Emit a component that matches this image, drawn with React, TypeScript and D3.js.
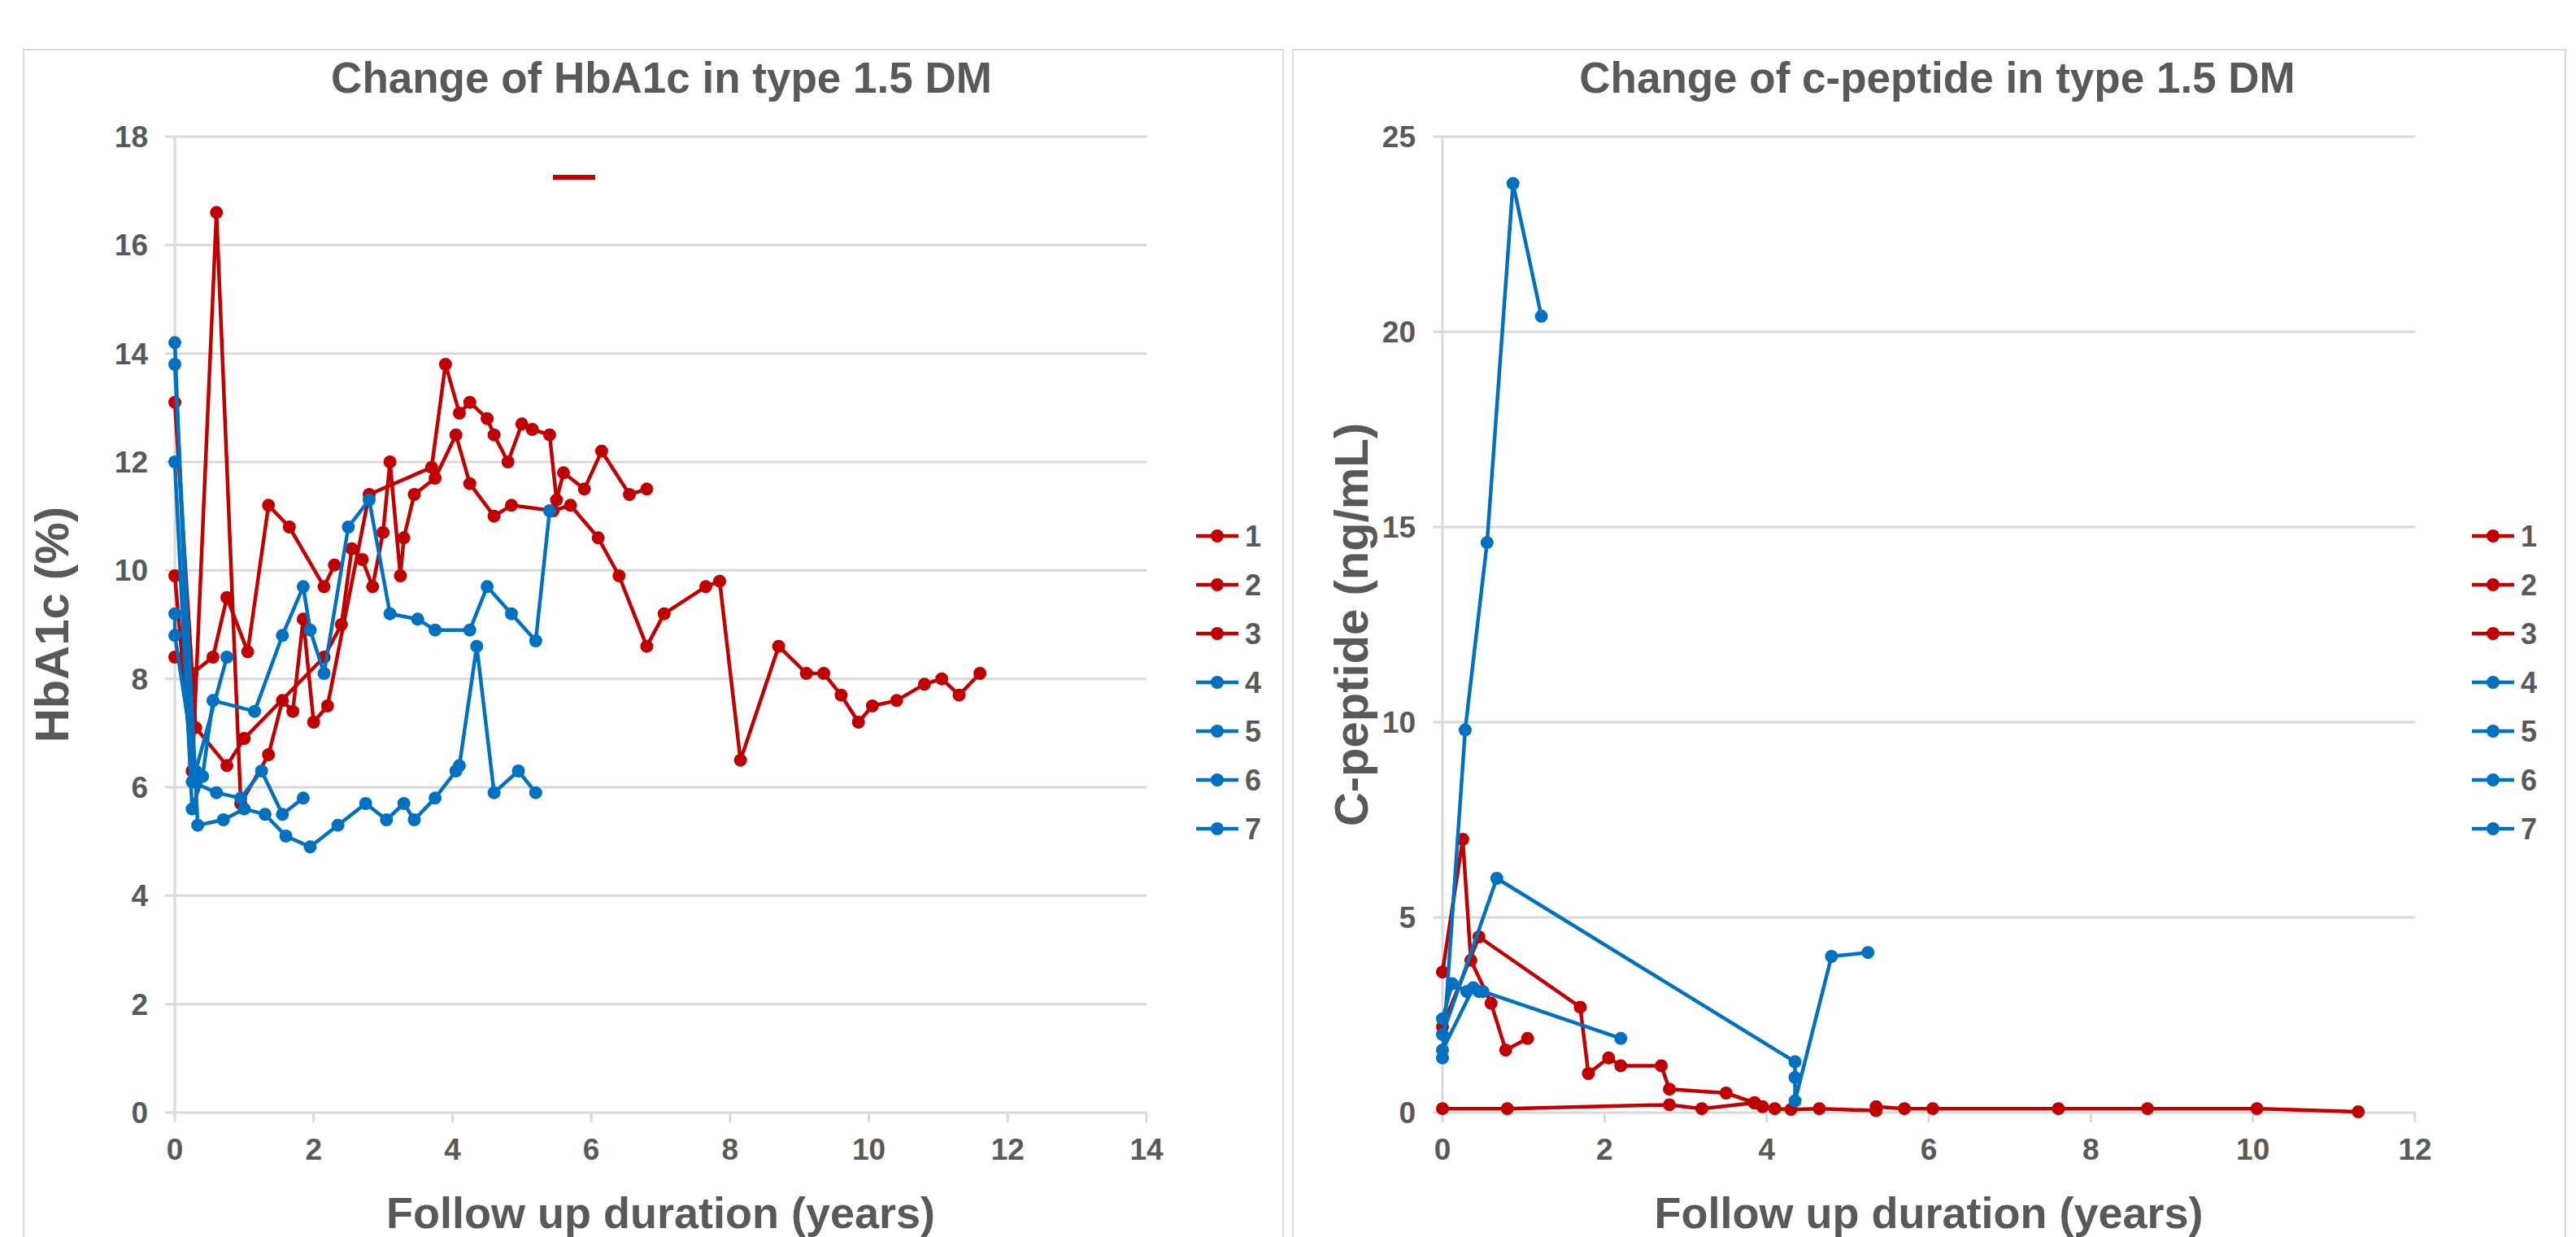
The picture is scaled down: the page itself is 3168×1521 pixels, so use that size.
import { useEffect, useRef } from "react";
import * as d3 from "d3";

type Pt = [number, number]; // [years, value]

const RED = "#C00000";
const BLUE = "#0070C0";
const seriesNames = ["1", "2", "3", "4", "5", "6", "7"];
const seriesColors = [RED, RED, RED, BLUE, BLUE, BLUE, BLUE];

// HbA1c (%)
const hba1c1: Pt[] = [
  [0, 9.9], [0.25, 6.3], [0.6, 16.6], [0.95, 5.7], [1.35, 6.6], [1.55, 7.6], [1.7, 7.4], [1.85, 9.1],
  [2.0, 7.2], [2.2, 7.5], [2.8, 11.4], [3.7, 11.9], [3.9, 13.8], [4.1, 12.9], [4.25, 13.1],
  [4.5, 12.8], [4.6, 12.5], [4.8, 12.0], [5.0, 12.7], [5.15, 12.6], [5.4, 12.5], [5.5, 11.3],
  [5.6, 11.8], [5.9, 11.5], [6.15, 12.2], [6.55, 11.4], [6.8, 11.5],
];
const hba1c2: Pt[] = [
  [0, 13.1], [0.3, 7.1], [0.75, 6.4], [1.0, 6.9], [2.15, 8.4], [2.4, 9.0], [2.55, 10.4], [2.7, 10.2],
  [2.85, 9.7], [3.0, 10.7], [3.1, 12.0], [3.25, 9.9], [3.3, 10.6], [3.45, 11.4], [3.75, 11.7],
  [4.05, 12.5], [4.25, 11.6], [4.6, 11.0], [4.85, 11.2], [5.45, 11.1], [5.7, 11.2], [6.1, 10.6],
  [6.4, 9.9], [6.8, 8.6], [7.05, 9.2], [7.65, 9.7], [7.85, 9.8], [8.15, 6.5], [8.7, 8.6], [9.1, 8.1],
  [9.35, 8.1], [9.6, 7.7], [9.85, 7.2], [10.05, 7.5], [10.4, 7.6], [10.8, 7.9], [11.05, 8.0],
  [11.3, 7.7], [11.6, 8.1],
];
const hba1c3: Pt[] = [
  [0, 8.4], [0.25, 8.1], [0.55, 8.4], [0.75, 9.5], [1.05, 8.5], [1.35, 11.2], [1.65, 10.8],
  [2.15, 9.7], [2.3, 10.1],
];
const hba1c4: Pt[] = [
  [0, 13.8], [0.33, 5.3], [0.7, 5.4], [1.0, 5.6], [1.3, 5.5], [1.6, 5.1], [1.95, 4.9], [2.35, 5.3],
  [2.75, 5.7], [3.05, 5.4], [3.3, 5.7], [3.45, 5.4], [3.75, 5.8], [4.05, 6.3], [4.1, 6.4], [4.35, 8.6],
  [4.6, 5.9], [4.95, 6.3], [5.2, 5.9],
];
const hba1c5: Pt[] = [
  [0, 14.2], [0.25, 6.1], [0.6, 5.9], [0.95, 5.8], [1.25, 6.3], [1.55, 5.5], [1.85, 5.8],
];
const hba1c6: Pt[] = [
  [0, 12.0], [0.25, 5.6], [0.4, 6.2], [0.55, 7.6], [1.15, 7.4], [1.55, 8.8], [1.85, 9.7],
  [1.95, 8.9], [2.15, 8.1], [2.5, 10.8], [2.8, 11.3], [3.1, 9.2], [3.5, 9.1], [3.75, 8.9],
  [4.25, 8.9], [4.5, 9.7], [4.85, 9.2], [5.2, 8.7], [5.4, 11.1],
];
const hba1c7: Pt[] = [
  [0, 9.2], [0, 8.8], [0.3, 6.3], [0.75, 8.4],
];

// C-peptide (ng/mL)
const cpep1: Pt[] = [
  [0, 0.1], [0.8, 0.1], [2.8, 0.2], [3.2, 0.1], [3.85, 0.25], [3.95, 0.15], [4.1, 0.1], [4.3, 0.08],
  [4.65, 0.1], [5.35, 0.05], [5.35, 0.15], [5.7, 0.1], [6.05, 0.1], [7.6, 0.1], [8.7, 0.1],
  [10.05, 0.1], [11.3, 0.02],
];
const cpep2: Pt[] = [
  [0, 3.6], [0.25, 7.0], [0.35, 3.9], [0.6, 2.8], [0.78, 1.6], [1.05, 1.9],
];
const cpep3: Pt[] = [
  [0, 2.2], [0.45, 4.5], [1.7, 2.7], [1.8, 1.0], [2.05, 1.4], [2.2, 1.2], [2.7, 1.2], [2.8, 0.6],
  [3.5, 0.5], [3.85, 0.25],
];
const cpep4: Pt[] = [
  [0, 1.4], [0.28, 9.8], [0.55, 14.6], [0.87, 23.8], [1.22, 20.4],
];
const cpep5: Pt[] = [
  [0, 2.0], [0.67, 6.0], [4.35, 1.3], [4.35, 0.9], [4.35, 0.3], [4.8, 4.0], [5.25, 4.1],
];
const cpep6: Pt[] = [
  [0, 2.4], [0.12, 3.3], [0.3, 3.1], [0.5, 3.1], [2.2, 1.9],
];
const cpep7: Pt[] = [
  [0, 1.6], [0.38, 3.2], [0.45, 3.1],
];

const hbaSeries = [hba1c1, hba1c2, hba1c3, hba1c4, hba1c5, hba1c6, hba1c7];
const cpepSeries = [cpep1, cpep2, cpep3, cpep4, cpep5, cpep6, cpep7];

const hbaXTicks = [0, 2, 4, 6, 8, 10, 12, 14];
const hbaYTicks = [0, 2, 4, 6, 8, 10, 12, 14, 16, 18];
const cpepXTicks = [0, 2, 4, 6, 8, 10, 12];
const cpepYTicks = [0, 5, 10, 15, 20, 25];

const FONT = "'Liberation Sans', Arial, sans-serif";
const TEXT = "#595959";
const GRID = "#d9d9d9";

interface PanelCfg {
  left: number;
  width: number;
  plotLeft: number;
  plotRight: number;
  title: string;
  yLabel: string;
  yLabelX: number;
  series: Pt[][];
  xTicks: number[];
  yTicks: number[];
  legendX: number;
}

function drawPanel(svg: d3.Selection<SVGSVGElement, unknown, null, undefined>, cfg: PanelCfg) {
  const top = 168;
  const bottom = 1368;

  svg.append("rect")
    .attr("x", cfg.left)
    .attr("y", 61)
    .attr("width", cfg.width)
    .attr("height", 1500)
    .attr("fill", "#fff")
    .attr("stroke", GRID)
    .attr("stroke-width", 2);

  const x = d3.scaleLinear()
    .domain([cfg.xTicks[0], cfg.xTicks[cfg.xTicks.length - 1]])
    .range([cfg.plotLeft, cfg.plotRight]);
  const y = d3.scaleLinear()
    .domain([cfg.yTicks[0], cfg.yTicks[cfg.yTicks.length - 1]])
    .range([bottom, top]);

  const g = svg.append("g");

  // horizontal grid
  g.selectAll("line.grid")
    .data(cfg.yTicks)
    .join("line")
    .attr("x1", cfg.plotLeft - 12)
    .attr("x2", cfg.plotRight)
    .attr("y1", (d) => y(d))
    .attr("y2", (d) => y(d))
    .attr("stroke", GRID)
    .attr("stroke-width", 3);

  // y axis line
  g.append("line")
    .attr("x1", cfg.plotLeft)
    .attr("x2", cfg.plotLeft)
    .attr("y1", top)
    .attr("y2", bottom)
    .attr("stroke", GRID)
    .attr("stroke-width", 3);

  // x tick marks
  g.selectAll("line.xt")
    .data(cfg.xTicks)
    .join("line")
    .attr("x1", (d) => x(d))
    .attr("x2", (d) => x(d))
    .attr("y1", bottom)
    .attr("y2", bottom + 12)
    .attr("stroke", GRID)
    .attr("stroke-width", 3);

  // tick labels
  g.selectAll("text.yl")
    .data(cfg.yTicks)
    .join("text")
    .attr("x", cfg.plotLeft - 33)
    .attr("y", (d) => y(d) + 13)
    .attr("text-anchor", "end")
    .attr("font-family", FONT)
    .attr("font-weight", "bold")
    .attr("font-size", 37)
    .attr("fill", TEXT)
    .text((d) => String(d));

  g.selectAll("text.xl")
    .data(cfg.xTicks)
    .join("text")
    .attr("x", (d) => x(d))
    .attr("y", bottom + 58)
    .attr("text-anchor", "middle")
    .attr("font-family", FONT)
    .attr("font-weight", "bold")
    .attr("font-size", 37)
    .attr("fill", TEXT)
    .text((d) => String(d));

  // titles
  g.append("text")
    .attr("x", cfg.left + cfg.width / 2 + 10)
    .attr("y", 114)
    .attr("text-anchor", "middle")
    .attr("font-family", FONT)
    .attr("font-weight", "bold")
    .attr("font-size", 53)
    .attr("fill", TEXT)
    .text(cfg.title);

  g.append("text")
    .attr("x", (cfg.plotLeft + cfg.plotRight) / 2)
    .attr("y", bottom + 142)
    .attr("text-anchor", "middle")
    .attr("font-family", FONT)
    .attr("font-weight", "bold")
    .attr("font-size", 54)
    .attr("fill", TEXT)
    .text("Follow up duration (years)");

  g.append("text")
    .attr("transform", `translate(${cfg.yLabelX},${(top + bottom) / 2}) rotate(-90)`)
    .attr("text-anchor", "middle")
    .attr("font-family", FONT)
    .attr("font-weight", "bold")
    .attr("font-size", 58)
    .attr("fill", TEXT)
    .text(cfg.yLabel);

  const line = d3.line<Pt>()
    .x((d) => x(d[0]))
    .y((d) => y(d[1]));

  cfg.series.forEach((s, i) => {
    const sg = g.append("g");
    sg.append("path")
      .datum(s)
      .attr("d", line)
      .attr("fill", "none")
      .attr("stroke", seriesColors[i])
      .attr("stroke-width", 4.5)
      .attr("stroke-linejoin", "round");
    sg.selectAll("circle")
      .data(s)
      .join("circle")
      .attr("cx", (d) => x(d[0]))
      .attr("cy", (d) => y(d[1]))
      .attr("r", 8)
      .attr("fill", seriesColors[i]);
  });

  // legend
  const lg = g.append("g");
  seriesNames.forEach((name, i) => {
    const ly = 659 + i * 60;
    lg.append("line")
      .attr("x1", cfg.legendX)
      .attr("x2", cfg.legendX + 52)
      .attr("y1", ly)
      .attr("y2", ly)
      .attr("stroke", seriesColors[i])
      .attr("stroke-width", 4.5);
    lg.append("circle")
      .attr("cx", cfg.legendX + 26)
      .attr("cy", ly)
      .attr("r", 8)
      .attr("fill", seriesColors[i]);
    lg.append("text")
      .attr("x", cfg.legendX + 60)
      .attr("y", ly + 13)
      .attr("font-family", FONT)
      .attr("font-weight", "bold")
      .attr("font-size", 36)
      .attr("fill", TEXT)
      .text(name);
  });

  return { x, y, g };
}

export default function App() {
  const svgRef = useRef<SVGSVGElement>(null);

  useEffect(() => {
    if (!svgRef.current) return;
    const svg = d3.select(svgRef.current);
    svg.selectAll("*").remove();

    svg.append("rect").attr("width", 3168).attr("height", 1521).attr("fill", "#fff");

    const left = drawPanel(svg, {
      left: 29,
      width: 1549,
      plotLeft: 215,
      plotRight: 1410,
      title: "Change of HbA1c in type 1.5 DM",
      yLabel: "HbA1c (%)",
      yLabelX: 84,
      series: hbaSeries,
      xTicks: hbaXTicks,
      yTicks: hbaYTicks,
      legendX: 1471,
    });

    // stray legend dash near the top of the HbA1c plot
    left.g.append("line")
      .attr("x1", 680)
      .attr("x2", 732)
      .attr("y1", 218)
      .attr("y2", 218)
      .attr("stroke", RED)
      .attr("stroke-width", 6);

    drawPanel(svg, {
      left: 1590,
      width: 1565,
      plotLeft: 1774,
      plotRight: 2970,
      title: "Change of c-peptide in type 1.5 DM",
      yLabel: "C-peptide (ng/mL)",
      yLabelX: 1682,
      series: cpepSeries,
      xTicks: cpepXTicks,
      yTicks: cpepYTicks,
      legendX: 3040,
    });
  }, []);

  return (
    <svg
      ref={svgRef}
      width={3168}
      height={1521}
      style={{ position: "absolute", left: 0, top: 0 }}
    />
  );
}
